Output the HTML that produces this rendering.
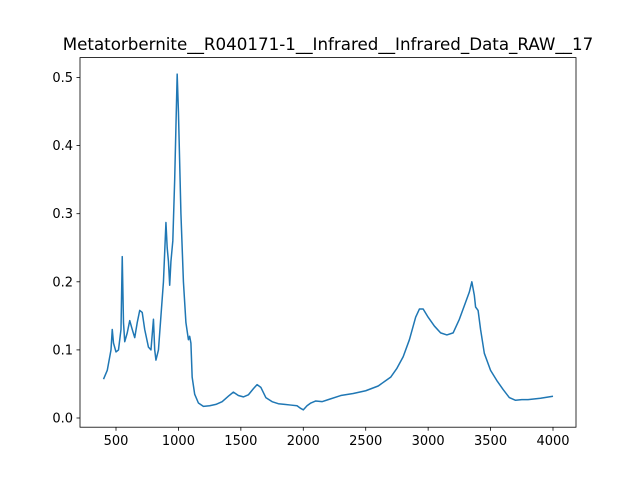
<!DOCTYPE html>
<html><head><meta charset="utf-8"><style>
body{margin:0;background:#fff;}
svg{display:block;font-family:"DejaVu Sans","Liberation Sans",sans-serif;}
</style></head><body>
<svg id="chart" width="640" height="480">
<rect width="640" height="480" fill="#fff"/>
<text x="328" y="50" font-size="16.7" text-anchor="middle">Metatorbernite__R040171-1__Infrared__Infrared_Data_RAW__17</text>
<g id="plot"></g>
<rect x="80" y="57.6" width="496" height="369.6" fill="none" stroke="#000" stroke-width="0.8"/>
</svg>
<script>
const xs=[400,430,460,470,480,500,520,540,550,560,570,590,610,630,650,670,690,710,730,760,780,800,810,820,840,860,880,900,910,920,930,940,955,970,990,1000,1020,1040,1060,1080,1090,1100,1110,1130,1160,1200,1250,1300,1350,1400,1440,1480,1520,1560,1600,1630,1660,1700,1750,1800,1850,1900,1950,1980,2000,2030,2060,2100,2150,2200,2300,2400,2500,2600,2700,2750,2800,2850,2900,2930,2960,3000,3050,3100,3150,3200,3250,3300,3330,3350,3370,3380,3400,3420,3450,3500,3550,3600,3650,3700,3750,3800,3900,4000];
const ys=[0.057,0.07,0.1,0.13,0.11,0.097,0.1,0.13,0.237,0.14,0.112,0.125,0.143,0.13,0.118,0.14,0.158,0.155,0.13,0.104,0.1,0.145,0.1,0.085,0.1,0.15,0.2,0.287,0.25,0.23,0.195,0.23,0.26,0.35,0.505,0.45,0.3,0.2,0.14,0.115,0.12,0.11,0.06,0.035,0.022,0.017,0.018,0.02,0.024,0.032,0.038,0.033,0.031,0.034,0.043,0.049,0.045,0.03,0.024,0.021,0.02,0.019,0.018,0.014,0.012,0.018,0.022,0.025,0.024,0.027,0.033,0.036,0.04,0.047,0.06,0.073,0.09,0.115,0.148,0.16,0.16,0.148,0.135,0.125,0.122,0.125,0.145,0.17,0.185,0.2,0.18,0.163,0.158,0.13,0.095,0.07,0.055,0.042,0.03,0.026,0.027,0.027,0.029,0.032];
const xTicks=[500,1000,1500,2000,2500,3000,3500,4000];
const yTicks=[0.0,0.1,0.2,0.3,0.4,0.5];
const X=v=>116+(v-500)*(437/3500);
const Y=v=>418-v*681;
const NS="http://www.w3.org/2000/svg";
const g=document.getElementById('plot');
function mk(t,a){const e=document.createElementNS(NS,t);for(const k in a)e.setAttribute(k,a[k]);g.appendChild(e);return e;}
xTicks.forEach(v=>{
  const l=mk('line',{x1:X(v),x2:X(v),y1:427.2,y2:430.7,stroke:'#000','stroke-width':0.8});
  
  
  const t=mk('text',{x:X(v),y:445,'font-size':13,'text-anchor':'middle'});t.textContent=v;
  
  
});
yTicks.forEach(v=>{
  const l=mk('line',{x1:76.5,x2:80,y1:Y(v),y2:Y(v),stroke:'#000','stroke-width':0.8});
  
  
  const t=mk('text',{x:73,y:Y(v)+4.5,'font-size':13,'text-anchor':'end'});t.textContent=v.toFixed(1);
  
  
});
const p=mk('polyline',{points:xs.map((x,i)=>X(x)+','+Y(ys[i])).join(' '),fill:'none',stroke:'#1f77b4','stroke-width':1.5,'stroke-linejoin':'round'});


</script>
</body></html>
